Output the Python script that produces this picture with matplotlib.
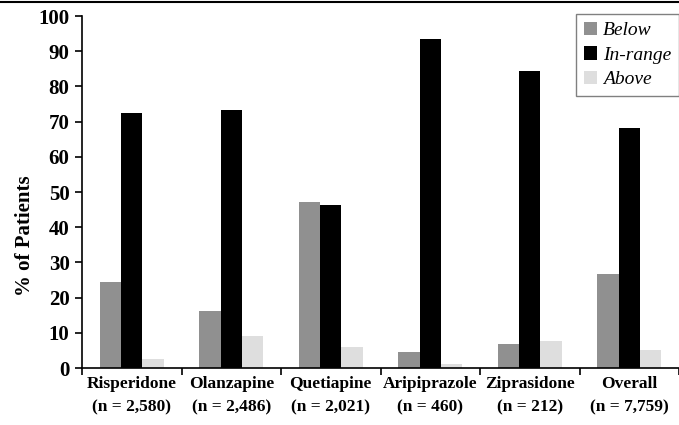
import matplotlib
matplotlib.use("Agg")
import matplotlib.pyplot as plt
import numpy as np
from matplotlib.lines import Line2D

categories = ["Risperidone", "Olanzapine", "Quetiapine", "Aripiprazole", "Ziprasidone", "Overall"]
counts = ["(n = 2,580)", "(n = 2,486)", "(n = 2,021)", "(n = 460)", "(n = 212)", "(n = 7,759)"]
below = [24.4, 16.2, 47.2, 4.5, 6.8, 26.7]
in_range = [72.5, 73.4, 46.4, 93.6, 84.4, 68.2]
above = [2.5, 9.1, 6.0, 1.1, 7.7, 5.1]
series_names = ["Below", "In-range", "Above"]
colors = ["#909090", "#000000", "#dedede"]
yticks = list(range(0, 101, 10))

plt.rcParams['font.family'] = ['Liberation Serif', 'DejaVu Serif']

W, H = 679, 425
fig = plt.figure(figsize=(W / 100, H / 100), dpi=100)
ax = fig.add_axes([82 / W, 1 - 368 / H, (679 - 82) / W, (368 - 16) / H])

x = np.arange(len(categories))
bw = 0.215
for i, (vals, name, col) in enumerate(zip([below, in_range, above], series_names, colors)):
    ax.bar(x + (i - 1) * bw, vals, width=bw, color=col, label=name, linewidth=0)

ax.set_xlim(-0.5, len(categories) - 0.5)
ax.set_ylim(0, 100)
ax.set_yticks(yticks)
ax.set_yticklabels([str(t) for t in yticks], fontsize=15, fontweight='bold')
ax.set_xticks(x)
ax.set_xticklabels([f"{c}\n{n}" for c, n in zip(categories, counts)], fontsize=12.5,
                   fontweight='bold', linespacing=1.55)
ax.set_xticks(np.arange(-0.5, len(categories), 1.0), minor=True)
ax.tick_params(axis='x', which='major', length=0, pad=6)
ax.tick_params(axis='x', which='minor', length=5, width=1.2, direction='out')
ax.tick_params(axis='y', length=5, width=1.2, direction='out', pad=4)

for s in ['top', 'right']:
    ax.spines[s].set_visible(False)
for s in ['left', 'bottom']:
    ax.spines[s].set_linewidth(1.2)

ax.set_ylabel("% of Patients", fontsize=15, fontweight='bold')
ax.yaxis.set_label_coords(-0.078, 0.375)

leg = ax.legend(loc='upper right', bbox_to_anchor=(1.0, 1 - 14 / H), bbox_transform=fig.transFigure,
                prop={'style': 'italic', 'size': 14}, frameon=True, fancybox=False,
                edgecolor='#606060', handlelength=0.7, handleheight=0.7, handletextpad=0.3,
                borderpad=0.4, labelspacing=0.35, borderaxespad=0)
leg.get_frame().set_linewidth(1.0)

fig.add_artist(Line2D([0, 1], [1 - 1.5 / H, 1 - 1.5 / H], transform=fig.transFigure, color='black', linewidth=1.5))

fig.savefig("out.png", dpi=100)
